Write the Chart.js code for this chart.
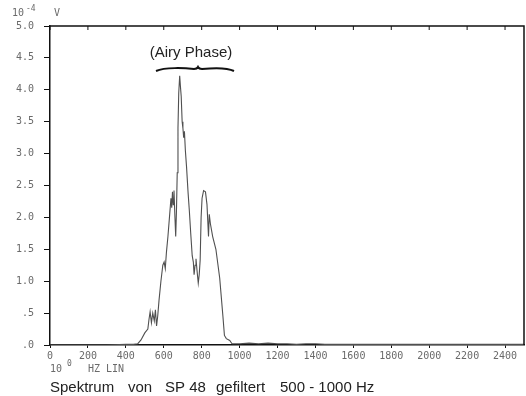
<!DOCTYPE html>
<html>
<head>
<meta charset="utf-8">
<script src="https://cdn.jsdelivr.net/npm/chart.js@4.4.1/dist/chart.umd.min.js"></script>
<style>
html,body{margin:0;padding:0;background:#fff;}
#wrap{width:526px;height:396px;}
</style>
</head>
<body>
<div id="wrap"><canvas id="c" width="526" height="396"></canvas></div>
<script>
// Frequencies (Hz) and amplitudes (10^-4 V)
const freqs = [0, 100, 200, 300, 400, 440, 463, 480, 500, 516, 522, 528, 535, 542, 550, 556, 562, 568, 575, 585, 595, 602, 608, 614, 622, 630, 638, 642, 646, 650, 654, 659, 663, 667, 671, 675, 679, 684, 688, 692, 697, 701, 705, 709, 714, 720, 728, 735, 742, 750, 756, 760, 765, 770, 776, 782, 787, 792, 797, 802, 810, 820, 828, 832, 836, 840, 846, 858, 875, 895, 912, 920, 930, 948, 960, 1000, 1050, 1100, 1150, 1200, 1250, 1300, 1350, 1400, 1450, 1500, 1600, 1700, 1800, 1900, 2000, 2100, 2200, 2300, 2400, 2500];
const amps  = [0, 0, 0, 0, 0.01, 0.01, 0.02, 0.08, 0.19, 0.25, 0.40, 0.52, 0.35, 0.50, 0.38, 0.55, 0.30, 0.45, 0.70, 1.00, 1.25, 1.30, 1.20, 1.45, 1.70, 2.00, 2.30, 2.15, 2.40, 2.20, 2.42, 2.00, 1.70, 2.10, 2.70, 3.40, 3.95, 4.22, 4.05, 3.90, 3.50, 3.40, 3.25, 3.35, 3.05, 2.80, 2.40, 2.10, 1.76, 1.40, 1.30, 1.10, 1.25, 1.35, 1.15, 0.97, 1.10, 1.33, 2.00, 2.30, 2.42, 2.40, 2.20, 1.95, 1.70, 2.05, 1.90, 1.70, 1.50, 1.05, 0.45, 0.15, 0.10, 0.07, 0.02, 0.02, 0.03, 0.02, 0.03, 0.02, 0.02, 0.01, 0.02, 0.02, 0.01, 0.01, 0.01, 0.01, 0.01, 0.01, 0.01, 0.01, 0.01, 0.01, 0.01, 0.01];
const xTickValues = [0, 200, 400, 600, 800, 1000, 1200, 1400, 1600, 1800, 2000, 2200, 2400];
const xTickLabels = ["0", "200", "400", "600", "800", "1000", "1200", "1400", "1600", "1800", "2000", "2200", "2400"];
const yTickValues = [0, 0.5, 1, 1.5, 2, 2.5, 3, 3.5, 4, 4.5, 5];
const yTickLabels = [".0", ".5", "1.0", "1.5", "2.0", "2.5", "3.0", "3.5", "4.0", "4.5", "5.0"];
const titleText = "Spektrum von SP 48 gefiltert 500 - 1000 Hz";
const annotationText = "(Airy Phase)";

const points = freqs.map((f, i) => ({x: f, y: amps[i]}));
const plotFont = "DejaVu Sans Mono";
const labelColor = "#6a6a6a";

const extras = {
  id: 'extras',
  afterDraw(chart) {
    const ctx = chart.ctx;
    const a = chart.chartArea;
    const xs = chart.scales.x;
    ctx.save();
    // top and right frame
    ctx.strokeStyle = '#111';
    ctx.lineWidth = 1.5;
    ctx.beginPath();
    ctx.moveTo(a.left, a.top); ctx.lineTo(a.right, a.top); ctx.lineTo(a.right, a.bottom);
    ctx.stroke();
    // top ticks
    ctx.lineWidth = 1;
    xTickValues.forEach(v => {
      const px = xs.getPixelForValue(v);
      ctx.beginPath(); ctx.moveTo(px, a.top); ctx.lineTo(px, a.top + 4); ctx.stroke();
    });
    // unit labels
    ctx.fillStyle = labelColor;
    ctx.font = "10px '" + plotFont + "'";
    ctx.textBaseline = 'middle';
    ctx.textAlign = 'left';
    ctx.fillText("10", 12, 13);
    ctx.font = "8px '" + plotFont + "'";
    ctx.fillText("-4", 26, 9);
    ctx.font = "10px '" + plotFont + "'";
    ctx.fillText("V", 54, 13);
    ctx.fillText("10", 50, 369);
    ctx.font = "8px '" + plotFont + "'";
    ctx.fillText("0", 67, 364);
    ctx.font = "10px '" + plotFont + "'";
    ctx.fillText("HZ LIN", 88, 369);
    // title
    ctx.fillStyle = '#222';
    ctx.font = "15px 'Liberation Sans'";
    const parts = titleText.split(' ');
    const segs = [[parts[0], 50], [parts[1], 128], [parts[2] + ' ' + parts[3], 165], [parts[4], 216], [parts.slice(5).join(' '), 280]];
    segs.forEach(s => ctx.fillText(s[0], s[1], 388));
    // annotation
    ctx.font = "15px 'Liberation Sans'";
    ctx.textAlign = 'center';
    ctx.fillText(annotationText, 191, 53);
    // brace
    ctx.strokeStyle = '#111';
    ctx.lineWidth = 2;
    ctx.beginPath();
    ctx.moveTo(156, 71);
    ctx.bezierCurveTo(165, 67, 185, 68, 194, 69);
    ctx.quadraticCurveTo(197, 69, 198, 67);
    ctx.quadraticCurveTo(199, 69, 202, 69);
    ctx.bezierCurveTo(212, 68, 226, 67, 234, 71);
    ctx.stroke();
    ctx.restore();
  }
};

new Chart(document.getElementById('c'), {
  type: 'line',
  data: {
    datasets: [{
      data: points,
      borderColor: '#505050',
      borderWidth: 1.1,
      pointRadius: 0,
      tension: 0,
      fill: false
    }]
  },
  options: {
    responsive: false,
    animation: false,
    layout: {padding: {top: 26, right: 2, left: 0, bottom: 0}},
    plugins: {legend: {display: false}, tooltip: {enabled: false}, title: {display: false}},
    scales: {
      x: {
        type: 'linear', min: 0, max: 2500,
        afterBuildTicks: s => { s.ticks = xTickValues.map(v => ({value: v})); },
        afterFit: s => { s.height = 51; },
        border: {display: true, color: '#111', width: 1.5},
        grid: {drawOnChartArea: false, drawTicks: true, tickLength: 3, color: '#111'},
        ticks: {
          callback: (v) => { const i = xTickValues.indexOf(v); return i >= 0 ? xTickLabels[i] : ''; },
          color: labelColor, font: {family: plotFont, size: 10}, padding: 2, maxRotation: 0, autoSkip: false
        }
      },
      y: {
        type: 'linear', min: 0, max: 5,
        afterBuildTicks: s => { s.ticks = yTickValues.map(v => ({value: v})); },
        afterFit: s => { s.width = 50; },
        border: {display: true, color: '#111', width: 1.5},
        grid: {drawOnChartArea: false, drawTicks: true, tickLength: 6, color: '#111'},
        ticks: {
          callback: (v) => { const i = yTickValues.indexOf(v); return i >= 0 ? yTickLabels[i] : ''; },
          color: labelColor, font: {family: plotFont, size: 10}, padding: 10, autoSkip: false
        }
      }
    }
  },
  plugins: [extras]
});
</script>
</body>
</html>
